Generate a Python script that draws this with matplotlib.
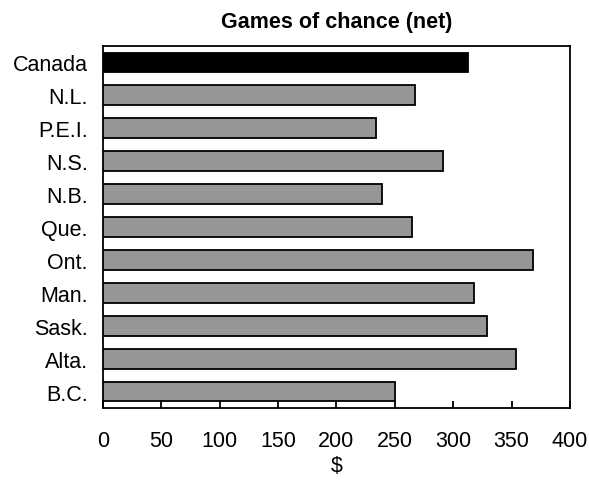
import matplotlib
matplotlib.use("Agg")
import matplotlib.pyplot as plt

plt.rcParams['font.family'] = ['Liberation Sans', 'DejaVu Sans']

regions = ["Canada", "N.L.", "P.E.I.", "N.S.", "N.B.", "Que.", "Ont.",
           "Man.", "Sask.", "Alta.", "B.C."]
values = [313, 267, 234, 291, 239, 265, 368, 318, 329, 354, 250]
colors = ["black"] + ["#969696"] * (len(regions) - 1)
xticks = [0, 50, 100, 150, 200, 250, 300, 350, 400]

fig = plt.figure(figsize=(5.89, 4.81), dpi=100)
ax = fig.add_axes([0.1749, 0.1497, 0.9677 - 0.1749, 0.9023 - 0.1497])

pos = list(range(len(regions)))
ax.barh(pos, values, height=0.6, color=colors, edgecolor="black",
        linewidth=1.3, zorder=3)

ax.set_xlim(0, 400)
ax.set_ylim(len(regions) - 0.5, -0.5)
ax.set_xticks(xticks)
ax.set_xticklabels([str(t) for t in xticks])
ax.set_yticks(pos)
ax.set_yticklabels(regions)

ax.tick_params(axis="x", direction="in", length=5, width=1.3, labelsize=15.5, pad=16)
ax.tick_params(axis="y", length=0, labelsize=15.5, pad=11)
for s in ax.spines.values():
    s.set_linewidth(1.3)

ax.set_xlabel("$", fontsize=15.5, labelpad=3)
ax.set_title("Games of chance (net)", fontsize=15.5, fontweight="bold", pad=14)

fig.savefig("out.png", dpi=100)
